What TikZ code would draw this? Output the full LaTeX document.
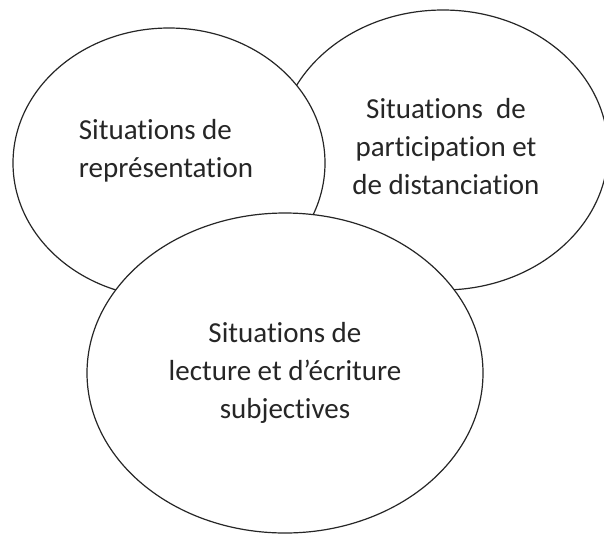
\documentclass[tikz,border=0pt]{standalone}
\usepackage{fontspec}
\setmainfont{Carlito}[Ligatures=NoCommon]
\begin{document}
\begin{tikzpicture}[x=1pt,y=-1pt,line width=1.2pt,font=\fontsize{29}{38}\selectfont,
	bulle/.style={draw=black!85,fill=white},
	texte/.style={text=black!85,inner sep=0pt,align=center}]
	\clip (0,0) rectangle (604,536);
	\filldraw[bulle] (443,150) ellipse (165 and 140);
	\filldraw[bulle] (169,163) ellipse (156 and 135);
	\filldraw[bulle] (285,373) ellipse (198 and 160);
	\node[texte,align=left] (representation) at (166,151) {Situations de\\représentation};
	\node[texte] (participation) at (446,147) {Situations~ de\\participation et\\de distanciation};
	\node[texte] (lecture) at (285,373) {Situations de\\lecture et d’écriture\\subjectives};
\end{tikzpicture}
\end{document}
